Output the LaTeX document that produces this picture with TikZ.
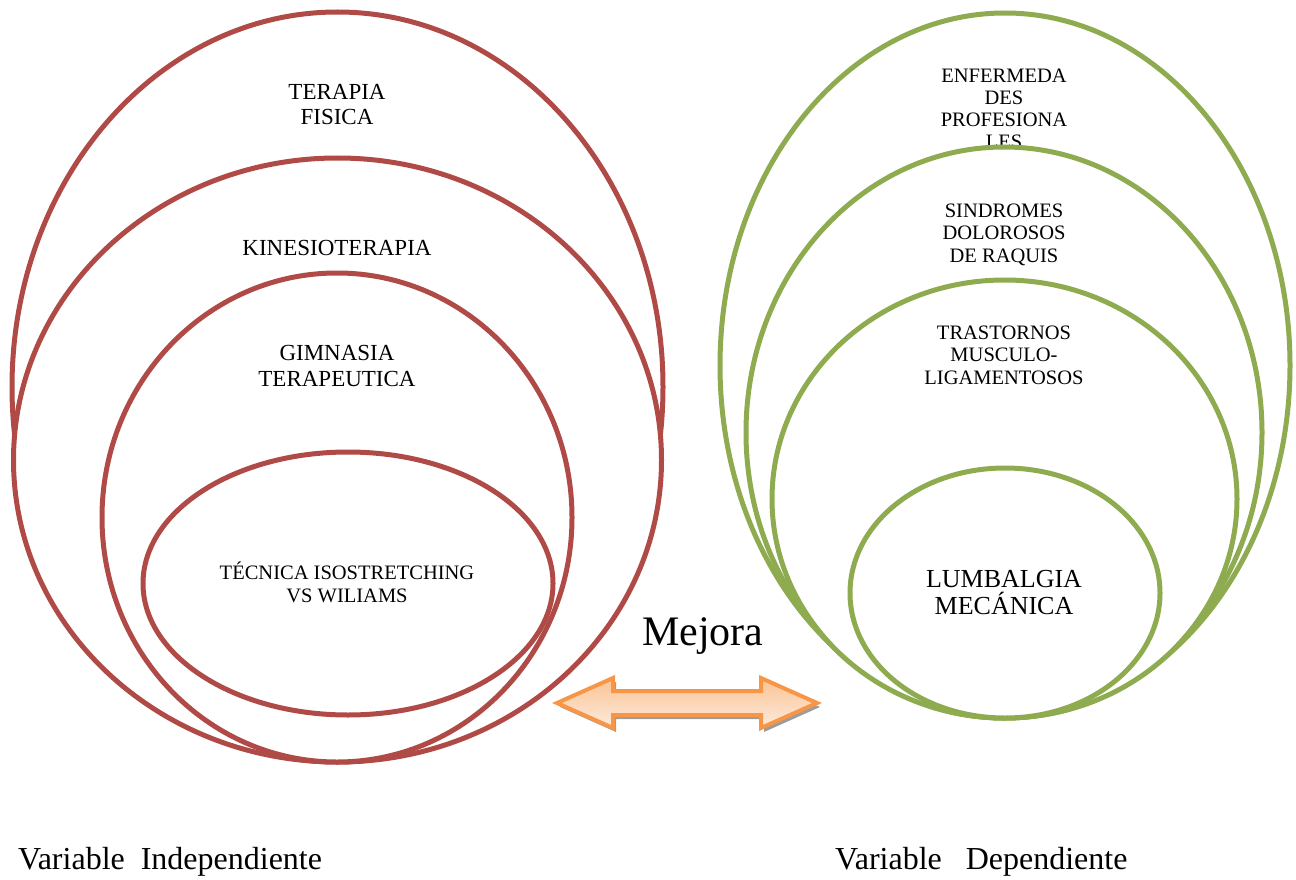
\documentclass[tikz,border=0pt]{standalone}
\usepackage{fontspec}
\setmainfont{Liberation Serif}
\usetikzlibrary{shapes.geometric}
\definecolor{vred}{HTML}{B04A46}
\definecolor{vgreen}{HTML}{8EAB50}
\definecolor{aorange}{HTML}{F79646}
\definecolor{atop}{HTML}{FAC394}
\definecolor{abot}{HTML}{FDEBDD}
\definecolor{ashadow}{HTML}{9C9C9C}
\tikzset{
  redell/.style={ellipse, draw=vred, line width=5pt, fill=white, inner sep=0pt},
  greenell/.style={ellipse, draw=vgreen, line width=5pt, fill=white, inner sep=0pt},
  lbl/.style={align=center, anchor=base, inner sep=0pt, font={\fontsize{23}{25.5}\selectfont}},
  rlbl/.style={align=center, anchor=base, inner sep=0pt, font={\fontsize{20.5}{22.3}\selectfont}},
  bottomlbl/.style={anchor=base west, inner sep=0pt, font={\fontsize{32}{34}\selectfont}},
}
\begin{document}
\begin{tikzpicture}[x=1pt,y=-1pt]
\useasboundingbox (0,0) rectangle (1296,880);
% left group
\node[redell, minimum width=651pt, minimum height=750pt] (tf) at (337.5,387) {};
\node[lbl] (tft) at (337,125) {TERAPIA\\FISICA};
\node[redell, minimum width=648pt, minimum height=604pt] (ki) at (337.5,460) {};
\node[lbl] (kit) at (337,255) {KINESIOTERAPIA};
\node[redell, minimum width=470pt, minimum height=489pt] (gi) at (337,517.5) {};
\node[lbl] (git) at (337,386) {GIMNASIA\\TERAPEUTICA};
\node[redell, minimum width=410pt, minimum height=263pt] (te) at (348,583.5) {};
\node[rlbl] (tet) at (347,602) {TÉCNICA ISOSTRETCHING\\VS WILIAMS};
% right group
\node[greenell, minimum width=570pt, minimum height=705pt] (en) at (1005,365.5) {};
\node[rlbl] (ent) at (1004,149) {ENFERMEDA\\DES\\PROFESIONA\\LES};
\node[greenell, minimum width=516pt, minimum height=571pt] (si) at (1004,432.5) {};
\node[rlbl] (sit) at (1004,262) {SINDROMES\\DOLOROSOS\\DE RAQUIS};
\node[greenell, minimum width=465pt, minimum height=438pt] (tr) at (1004.5,499) {};
\node[rlbl] (trt) at (1004,384) {TRASTORNOS\\MUSCULO-\\LIGAMENTOSOS};
\node[greenell, minimum width=310pt, minimum height=250pt] (lu) at (1005,593) {};
\node[align=center, anchor=base, inner sep=0pt, font={\fontsize{26}{27}\selectfont}] (lut) at (1004,614) {LUMBALGIA\\MECÁNICA};
% arrow
\node[anchor=base west, inner sep=0pt, font={\fontsize{42}{46}\selectfont}] (mej) at (642,645) {Mejora};
\fill[ashadow, shift={(3pt,-4pt)}] (557,703) -- (613,678) -- (613,691) -- (761,691) -- (761,678) -- (817,703) -- (761,728) -- (761,715) -- (613,715) -- (613,728) -- cycle;
\draw[aorange, line width=4pt, line join=miter, top color=atop, bottom color=abot] (557,703) -- (613,678) -- (613,691) -- (761,691) -- (761,678) -- (817,703) -- (761,728) -- (761,715) -- (613,715) -- (613,728) -- cycle;
% bottom labels
\node[bottomlbl] (vi) at (18,869) {Variable\ \ Independiente};
\node[bottomlbl] (vd) at (835,869) {Variable\ \ \ Dependiente};
\end{tikzpicture}
\end{document}
